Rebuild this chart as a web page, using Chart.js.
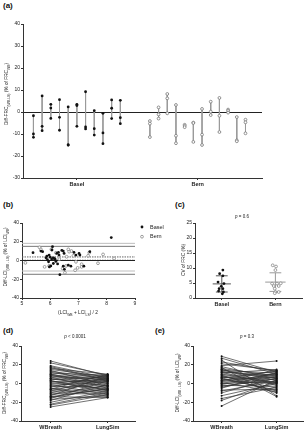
<!DOCTYPE html>
<html>
<head>
<meta charset="utf-8">
<script src="https://cdn.jsdelivr.net/npm/chart.js@4.4.1/dist/chart.umd.min.js"></script>
<style>
  body { margin: 0; background: #fff; width: 307px; height: 433px; position: relative; overflow: hidden;
         font-family: "Liberation Sans", Arial, sans-serif; }
  .panel { position: absolute; }
  .tag { position: absolute; font-weight: bold; font-size: 8px; color: #111; line-height: 8px; }
</style>
</head>
<body>
<div class="tag" style="left:3px;top:2px">(a)</div>
<div class="tag" style="left:3px;top:201px">(b)</div>
<div class="tag" style="left:175px;top:201px">(c)</div>
<div class="tag" style="left:3px;top:327px">(d)</div>
<div class="tag" style="left:155px;top:327px">(e)</div>

<div class="panel" style="left:0;top:0;width:307px;height:195px"><canvas id="chartA"></canvas></div>
<div class="panel" style="left:0;top:200px;width:170px;height:120px"><canvas id="chartB"></canvas></div>
<div class="panel" style="left:170px;top:200px;width:137px;height:110px"><canvas id="chartC"></canvas></div>
<div class="panel" style="left:0;top:320px;width:155px;height:113px"><canvas id="chartD"></canvas></div>
<div class="panel" style="left:155px;top:320px;width:152px;height:113px"><canvas id="chartE"></canvas></div>

<script>
// ---- datos (a): tres mediciones Diff-FRC por sujeto ----
const baselFrc = [
  [-1.7, -10.0, -11.5], [7.3, -6.5, -8.5], [3.5, 1.8, -2.9], [5.6, -2.4, -8.3],
  [2.3, -15.0, -15.0], [3.5, 2.9, -6.5], [9.2, -6.8, -7.7], [0.6, -7.6, -10.5],
  [-0.6, -9.5, -14.4], [5.5, 1.7, -3.0], [5.3, -2.6, -5.3]
];
const bernFrc = [
  [-4.1, -5.3, -11.4], [2.1, -1.1, -3.0], [8.2, 6.2, -0.6], [3.2, -10.8, -14.2],
  [-5.8, -6.3, -6.9], [-4.8, -5.0, -13.6], [1.4, -10.3, -15.0], [4.7, 0.2, -1.4],
  [6.4, -1.7, -9.1], [1.1, 0.5, -0.3], [-2.3, -12.9, -13.3], [-3.5, -4.7, -9.7]
];
const centerLabels = ['Basel', 'Bern'];

// ---- datos (b): Bland-Altman LCI ----
const baselMeanLci = [5.39, 5.67, 5.73, 5.88, 5.85, 5.96, 6.0, 5.94, 6.02, 5.97, 6.08, 6.06, 6.11, 6.17, 6.11,
  6.23, 6.29, 6.31, 6.26, 6.34, 6.41, 6.46, 6.49, 6.46, 6.5, 6.64, 6.73, 6.84, 6.91, 7.02, 7.05, 7.19, 7.40, 8.16,
  6.05, 6.15, 5.9, 6.2];
const baselDiffLci = [8.3, 10.1, 9.4, 4.7, 2.9, 5.8, 3.6, -1.4, -5.8, -6.8, 14.7, 11.2, 2.9, 1.4, -3.2,
  7.6, 8.6, 5.8, -3.6, -15.1, 10.8, 10.1, 7.6, -6.1, -9.4, -5.0, -6.1, 8.6, 5.8, 7.6, 5.8, -6.1, 9.4, 24.5,
  1.5, 2.0, 0.8, -1.0];
const bernMeanLci = [5.12, 5.62, 5.67, 5.8, 5.96, 6.04, 6.2, 6.32, 6.44, 6.52, 6.58, 6.64, 6.67, 6.75, 6.82,
  6.88, 6.97, 7.11, 7.11, 7.38, 7.34, 7.69, 7.87, 8.26, 6.91, 6.56];
const bernDiffLci = [-2.5, 14.0, 11.9, -6.8, -5.8, 11.9, 8.3, 1.4, -8.6, -13.0, 4.0, 11.9, 9.4, 10.1, 5.0,
  -10.4, -7.9, -4.0, -6.8, 8.3, 5.0, -2.9, 6.5, 2.2, -1.4, -5.8];
const baselLimits = [0.2, 15.1, -14.7];   // media, límite superior, límite inferior
const bernLimits = [3.8, 18.3, -11.2];
const lciRange = [5, 9];

// ---- datos (c): CV de FRC ----
const cvBasel = [9.3, 8.1, 7.4, 5.3, 4.8, 3.9, 3.1, 3.1, 2.3, 2.0, 1.4];
const cvBaselJitter = [0.01, -0.02, 0.01, -0.035, 0.02, -0.005, -0.025, 0.01, -0.03, 0.015, 0.005];
const cvBern = [10.9, 10.5, 9.3, 4.8, 4.8, 4.9, 4.0, 4.0, 3.1, 2.0, 2.0, 1.6];
const cvBernJitter = [-0.025, 0.006, 0.0, -0.031, 0.015, 0.05, -0.015, 0.031, -0.006, 0.0, 0.031, -0.006];
const cvMean = [4.7, 5.3];
const cvSd = [2.7, 3.1];

// ---- datos (d) y (e): WBreath vs LungSim ----
const pairLabels = ['WBreath', 'LungSim'];
const frcWBreath = [24, 22, 19, 17, 16, 15, 14, 13, 12, 11, 10, 9, 8, 8, 7, 6, 5, 5, 4, 3, 2, 1, 0, -1, -2,
  -3, -4, -5, -6, -7, -8, -9, -10, -11, -12, -13, -14, -15, -16, -17, -18, -20, -22, -23, -25, 18, 10, 3, -6, -14];
const frcLungSim = [8, 9, 6, 3, 10, 7, -2, 5, 2, 9, 0, -5, 8, 4, -8, 6, 1, -3, 7, -10, 3, -6, 5, -12, 2,
  -4, 9, -14, 0, -7, 6, -9, 4, -11, -2, 8, -15, -5, 3, -13, -1, -8, -10, -12, -15, 4, -3, -7, 10, -6];
const lciWBreath = [29, 27, 25, 23, 21, 19, 18, 17, 16, 15, 14, 13, 12, 11, 10, 9, 8, 7, 6, 5, 4, 3, 2, 1, 0,
  -1, -2, -3, -5, -7, -8, -10, -13, -16, -18, -24, 12, 6, 3, 9, 15, -4, 0, 7];
const lciLungSim = [12, 10, -13, 13, 14, 24, 5, -14, 8, 3, 11, 6, -2, 15, 1, 9, -5, 4, 13, -7, 7, 0, 10, -9, 2,
  8, -3, 5, 12, -6, 3, 6, 0, -4, 2, 4, 9, -8, 14, -10, -1, 7, 11, 1];

Chart.defaults.font.family = '"Liberation Sans", Arial, sans-serif';
Chart.defaults.font.size = 5;
Chart.defaults.color = '#222';
Chart.defaults.animation = false;
Chart.defaults.maintainAspectRatio = false;
Chart.defaults.plugins.legend.display = false;
Chart.defaults.plugins.tooltip.enabled = false;

const FONT = '"Liberation Sans", Arial, sans-serif';

// Dibuja texto con subíndices (tipo 1) o cursiva (tipo 2)
function drawRich(ctx, parts, x, y, size, rotate, align) {
  ctx.save();
  ctx.translate(x, y);
  if (rotate) ctx.rotate(-Math.PI / 2);
  ctx.fillStyle = '#222';
  ctx.textBaseline = 'middle';
  const fontOf = p => (p[1] === 2 ? 'italic ' : '') + (p[1] === 1 ? size * 0.7 : size) + 'px ' + FONT;
  let total = 0;
  parts.forEach(p => { ctx.font = fontOf(p); total += ctx.measureText(p[0]).width; });
  let cx = align === 'left' ? 0 : -total / 2;
  parts.forEach(p => {
    ctx.font = fontOf(p);
    ctx.fillText(p[0], cx, p[1] === 1 ? size * 0.35 : 0);
    cx += ctx.measureText(p[0]).width;
  });
  ctx.restore();
}

function notes(list) {
  return {
    id: 'notes',
    afterDraw(chart) {
      list.forEach(n => drawRich(chart.ctx, n.parts, n.x, n.y, n.size, n.rotate, n.align));
    }
  };
}

// Eje Y con ancho fijo para fijar el área del gráfico
function axisY(min, max, step, width, zeroLine) {
  return {
    min: min, max: max,
    afterFit: s => { s.width = width; },
    ticks: { stepSize: step, padding: 1, font: { size: 5 } },
    grid: {
      drawOnChartArea: !!zeroLine,
      color: c => (zeroLine && c.tick && c.tick.value === 0) ? '#222' : 'rgba(0,0,0,0)',
      tickColor: '#333', tickLength: 2, lineWidth: 1
    },
    border: { color: '#333', width: 1 }
  };
}

// Eje X lineal con etiquetas de categoría en posiciones dadas
function axisX(min, max, positions, labels, height) {
  return {
    type: 'linear', min: min, max: max,
    afterFit: s => { s.height = height; },
    afterBuildTicks: s => { s.ticks = positions.map(v => ({ value: v })); },
    ticks: { callback: (v, i) => labels[i], autoSkip: false, maxRotation: 0, padding: 1,
             font: { size: 5.5, weight: 'bold' } },
    grid: { drawOnChartArea: false, tickLength: 2, color: '#333' },
    border: { color: '#333', width: 1 }
  };
}

const frcTitle = [['Diff-FRC', 0], ['(WB-LS)', 1], [' (% of FRC', 0], ['WB', 1], [')', 0]];
const lciTitle = [['Diff-LCI', 0], ['(WB - LS)', 1], [' (% of LCI', 0], ['WB', 1], [')', 0]];

// ================= (a) =================
const baselPos = baselFrc.map((v, i) => 1.2 + i * 1.0);
const bernPos = bernFrc.map((v, i) => 14.6 + i * 1.0);
const rangeSets = [];
baselFrc.concat(bernFrc).forEach((vals, i) => {
  const x = i < baselFrc.length ? baselPos[i] : bernPos[i - baselFrc.length];
  rangeSets.push({
    data: [{ x: x, y: Math.max(...vals) }, { x: x, y: Math.min(...vals) }],
    showLine: true, borderColor: '#9a9a9a', borderWidth: 1, pointRadius: 0, order: 2
  });
});
new Chart(document.getElementById('chartA'), {
  type: 'scatter',
  data: {
    datasets: [
      { data: baselFrc.flatMap((vals, i) => vals.map(v => ({ x: baselPos[i], y: v }))),
        pointRadius: 1.4, backgroundColor: '#111', borderColor: '#111', borderWidth: 0, order: 0 },
      { data: bernFrc.flatMap((vals, i) => vals.map(v => ({ x: bernPos[i], y: v }))),
        pointRadius: 1.4, backgroundColor: '#fff', borderColor: '#777', borderWidth: 0.8, order: 0 }
    ].concat(rangeSets)
  },
  options: {
    responsive: true,
    layout: { padding: { left: 0, top: 24, right: 45, bottom: 0 } },
    scales: {
      x: axisX(0, 27.5, [6.2, 20.1], centerLabels, 17),
      y: axisY(-30, 40, 10, 23, true)
    }
  },
  plugins: [notes([{ parts: frcTitle, x: 7, y: 94, size: 4.8, rotate: true }])]
});

// ================= (b) =================
function hLine(val, color, dash) {
  return { data: lciRange.map(x => ({ x: x, y: val })), showLine: true, borderColor: color,
           borderWidth: 1, borderDash: dash || [], pointRadius: 0, order: 3 };
}
new Chart(document.getElementById('chartB'), {
  type: 'scatter',
  data: {
    datasets: [
      { data: baselMeanLci.map((x, i) => ({ x: x, y: baselDiffLci[i] })),
        pointRadius: 1.4, backgroundColor: '#111', borderWidth: 0, order: 0 },
      { data: bernMeanLci.map((x, i) => ({ x: x, y: bernDiffLci[i] })),
        pointRadius: 1.4, backgroundColor: '#fff', borderColor: '#888', borderWidth: 0.8, order: 1 },
      hLine(bernLimits[1], '#bdbdbd'), hLine(bernLimits[2], '#bdbdbd'),
      hLine(baselLimits[1], '#777'), hLine(baselLimits[2], '#777'),
      hLine(bernLimits[0], '#666', [1.5, 1]), hLine(baselLimits[0], '#222', [1.5, 1])
    ]
  },
  options: {
    responsive: true,
    layout: { padding: { left: 0, top: 23, right: 35, bottom: 0 } },
    scales: {
      x: {
        type: 'linear', min: lciRange[0], max: lciRange[1],
        afterFit: s => { s.height = 22; },
        ticks: { stepSize: 1, padding: 1, font: { size: 5 } },
        grid: { drawOnChartArea: false, tickLength: 2, color: '#333' },
        border: { color: '#333', width: 1 }
      },
      y: axisY(-40, 40, 20, 22, true)
    }
  },
  plugins: [notes([
    { parts: lciTitle, x: 6, y: 57, size: 4.8, rotate: true },
    { parts: [['(LCI', 0], ['WB', 1], [' + LCI', 0], ['LS', 1], [') / 2', 0]], x: 78, y: 113, size: 4.8 },
    { parts: [['Basel', 0]], x: 150, y: 27, size: 5.5, align: 'left' },
    { parts: [['Bern', 0]], x: 150, y: 36.7, size: 5.5, align: 'left' }
  ]), {
    id: 'legendDots',
    afterDraw(chart) {
      const ctx = chart.ctx;
      ctx.save();
      ctx.fillStyle = '#111';
      ctx.beginPath(); ctx.arc(142, 27, 1.4, 0, Math.PI * 2); ctx.fill();
      ctx.strokeStyle = '#888'; ctx.lineWidth = 0.8;
      ctx.beginPath(); ctx.arc(142, 36.7, 1.4, 0, Math.PI * 2); ctx.stroke();
      ctx.restore();
    }
  }]
});

// ================= (c) =================
const cvPos = [0.25, 0.75];
function meanSdSets(i, color, half) {
  const x = cvPos[i], m = cvMean[i], s = cvSd[i];
  const base = { showLine: true, borderColor: color, borderWidth: 1, pointRadius: 0, order: 2 };
  return [
    Object.assign({ data: [{ x: x - half, y: m }, { x: x + half, y: m }] }, base),
    Object.assign({ data: [{ x: x - 0.055, y: m + s }, { x: x + 0.055, y: m + s }] }, base),
    Object.assign({ data: [{ x: x - 0.055, y: m - s }, { x: x + 0.055, y: m - s }] }, base),
    Object.assign({ data: [{ x: x, y: m - s }, { x: x, y: m + s }] }, base)
  ];
}
new Chart(document.getElementById('chartC'), {
  type: 'scatter',
  data: {
    datasets: [
      { data: cvBasel.map((v, i) => ({ x: cvPos[0] + cvBaselJitter[i], y: v })),
        pointRadius: 1.4, backgroundColor: '#111', borderWidth: 0, order: 0 },
      { data: cvBern.map((v, i) => ({ x: cvPos[1] + cvBernJitter[i], y: v })),
        pointRadius: 1.4, backgroundColor: '#fff', borderColor: '#888', borderWidth: 0.8, order: 0 }
    ].concat(meanSdSets(0, '#555', 0.085), meanSdSets(1, '#999', 0.095))
  },
  options: {
    responsive: true,
    layout: { padding: { left: 0, top: 23, right: 4, bottom: 0 } },
    scales: {
      x: axisX(0, 1, cvPos, centerLabels, 12),
      y: axisY(0, 25, 5, 25, false)
    }
  },
  plugins: [notes([
    { parts: [['CV of FRC (%)', 0]], x: 14, y: 60, size: 4.8, rotate: true },
    { parts: [['p', 2], [' = 0.6', 0]], x: 72, y: 17, size: 4.5 }
  ])]
});

// ================= (d) y (e) =================
function pairChart(id, wb, ls, title, pText, yWidth, padRight, titleX, pX) {
  const sets = wb.map((v, i) => ({
    data: [{ x: 0.26, y: v }, { x: 0.76, y: ls[i] }],
    showLine: true, borderColor: '#333', borderWidth: 0.7,
    pointRadius: 1, pointBackgroundColor: '#111', pointBorderWidth: 0
  }));
  new Chart(document.getElementById(id), {
    type: 'scatter',
    data: { datasets: sets },
    options: {
      responsive: true,
      layout: { padding: { left: 0, top: 26, right: padRight, bottom: 0 } },
      scales: {
        x: axisX(0, 1, [0.26, 0.76], pairLabels, 12),
        y: axisY(-40, 40, 20, yWidth, false)
      }
    },
    plugins: [notes([
      { parts: title, x: titleX, y: 63, size: 4.8, rotate: true },
      { parts: pText, x: pX, y: 17, size: 4.5 }
    ])]
  });
}
pairChart('chartD', frcWBreath, frcLungSim, frcTitle, [['p', 2], [' < 0.0001', 0]], 21, 20, 5, 75);
pairChart('chartE', lciWBreath, lciLungSim, lciTitle, [['p', 2], [' = 0.3', 0]], 38, 4, 23, 92);
</script>
</body>
</html>
